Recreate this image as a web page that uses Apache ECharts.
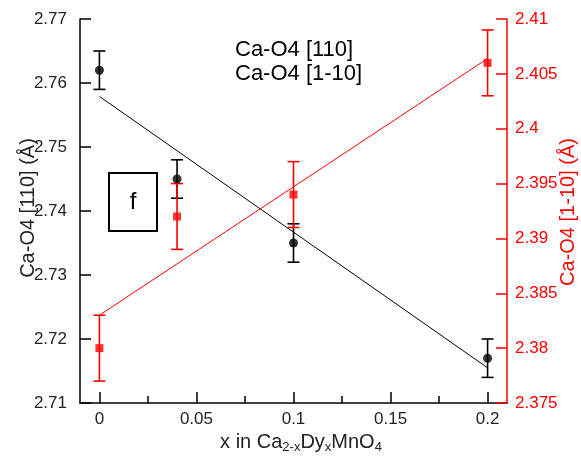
<!DOCTYPE html>
<html>
<head>
<meta charset="utf-8">
<script src="https://cdn.jsdelivr.net/npm/echarts@6/dist/echarts.min.js"></script>
<style>
html,body{margin:0;padding:0;background:#fff;}
#chart{width:581px;height:460px;}
</style>
</head>
<body>
<div id="chart"></div>
<script>
// ---- data ----
const xValues = [0, 0.04, 0.1, 0.2];
const ca110 = [2.762, 2.745, 2.735, 2.717];
const ca110Err = [0.003, 0.003, 0.003, 0.003];
const ca1m10 = [2.380, 2.392, 2.394, 2.406];
const ca1m10Err = [0.003, 0.003, 0.003, 0.003];
const fitX = [0, 0.2];
const fit110Y = [2.7579, 2.7155];
const fit1m10Y = [2.383, 2.4064];
const xMajorTicks = [0, 0.05, 0.1, 0.15, 0.2];
const xMinorTicks = [0.025, 0.075, 0.125, 0.175];
const legendLabels = ['Ca-O4 [110]', 'Ca-O4 [1-10]'];
const leftTitle = 'Ca-O4 [110] (Å)';
const rightTitle = 'Ca-O4 [1-10] (Å)';
const panelLetter = 'f';

const FONT = 'Liberation Sans';
const RED = '#ff0000';

function zip(xs, ys, es) {
  return xs.map((x, i) => es ? [x, ys[i], es[i]] : [x, ys[i]]);
}

function errRenderer(color) {
  return function (params, api) {
    const x = api.value(0), y = api.value(1), e = api.value(2);
    const t = api.coord([x, y + e]);
    const b = api.coord([x, y - e]);
    const hw = 6;
    const st = { stroke: color, lineWidth: 1.6 };
    return {
      type: 'group',
      children: [
        { type: 'line', shape: { x1: t[0], y1: t[1], x2: b[0], y2: b[1] }, style: st },
        { type: 'line', shape: { x1: t[0] - hw, y1: t[1], x2: t[0] + hw, y2: t[1] }, style: st },
        { type: 'line', shape: { x1: b[0] - hw, y1: b[1], x2: b[0] + hw, y2: b[1] }, style: st }
      ]
    };
  };
}

const chart = echarts.init(document.getElementById('chart'), null, { renderer: 'canvas' });

const option = {
  backgroundColor: '#fff',
  animation: false,
  grid: { left: 80, right: 74, top: 19, bottom: 57 },
  xAxis: [
    {
      type: 'value', min: -0.01, max: 0.21, position: 'bottom',
      axisLine: { show: true, onZero: false, lineStyle: { color: '#000', width: 1.5 } },
      axisTick: { show: true, inside: true, length: 11, customValues: xMajorTicks, lineStyle: { color: '#000', width: 1.5 } },
      axisLabel: { show: true, customValues: xMajorTicks, color: '#222', fontFamily: FONT, fontSize: 17, margin: 8 },
      splitLine: { show: false }
    },
    {
      type: 'value', min: -0.01, max: 0.21, position: 'top', offset: -384,
      axisLine: { show: false, onZero: false },
      axisTick: { show: true, inside: false, length: 7, customValues: xMinorTicks, lineStyle: { color: '#000', width: 1.5 } },
      axisLabel: { show: false },
      splitLine: { show: false }
    }
  ],
  yAxis: [
    {
      type: 'value', min: 2.71, max: 2.77, interval: 0.01, position: 'left',
      axisLine: { show: true, onZero: false, lineStyle: { color: '#000', width: 1.5 } },
      axisTick: { show: true, inside: true, length: 11, lineStyle: { color: '#000', width: 1.5 } },
      axisLabel: { color: '#222', fontFamily: FONT, fontSize: 17, margin: 13 },
      splitLine: { show: false }
    },
    {
      type: 'value', min: 2.375, max: 2.41, interval: 0.005, position: 'right',
      axisLine: { show: true, onZero: false, lineStyle: { color: RED, width: 1.5 } },
      axisTick: { show: true, inside: true, length: 11, lineStyle: { color: RED, width: 1.5 } },
      axisLabel: { color: RED, fontFamily: FONT, fontSize: 17, margin: 8 },
      splitLine: { show: false }
    }
  ],
  series: [
    {
      type: 'line', data: zip(fitX, fit110Y), xAxisIndex: 0, yAxisIndex: 0,
      showSymbol: false, symbol: 'none', lineStyle: { color: '#000', width: 1 }, z: 2
    },
    {
      type: 'line', data: zip(fitX, fit1m10Y), xAxisIndex: 0, yAxisIndex: 1,
      showSymbol: false, symbol: 'none', lineStyle: { color: RED, width: 1 }, z: 2
    },
    {
      type: 'custom', data: zip(xValues, ca110, ca110Err), xAxisIndex: 0, yAxisIndex: 0,
      renderItem: errRenderer('#000'), z: 3
    },
    {
      type: 'custom', data: zip(xValues, ca1m10, ca1m10Err), xAxisIndex: 0, yAxisIndex: 1,
      renderItem: errRenderer(RED), z: 4
    },
    {
      type: 'scatter', data: zip(xValues, ca110), xAxisIndex: 0, yAxisIndex: 0,
      symbol: 'circle', symbolSize: 9, itemStyle: { color: '#000' }, z: 5
    },
    {
      type: 'scatter', data: zip(xValues, ca1m10), xAxisIndex: 0, yAxisIndex: 1,
      symbol: 'rect', symbolSize: 8, itemStyle: { color: RED }, z: 6
    }
  ],
  graphic: [
    { type: 'text', left: 235, top: 39, style: { text: legendLabels[0], fill: '#000', font: '22px "' + FONT + '"' } },
    { type: 'text', left: 235, top: 63, style: { text: legendLabels[1], fill: '#000', font: '22px "' + FONT + '"' } },
    { type: 'rect', shape: { x: 109, y: 173, width: 48, height: 58 }, style: { fill: 'none', stroke: '#000', lineWidth: 2 } },
    { type: 'text', x: 133, y: 202, style: { text: panelLetter, fill: '#000', font: '24px "' + FONT + '"', align: 'center', verticalAlign: 'middle' } },
    { type: 'text', x: 28, y: 208, rotation: Math.PI / 2, style: { text: leftTitle, fill: '#222', font: '20px "' + FONT + '"', align: 'center', verticalAlign: 'middle' } },
    { type: 'text', x: 568, y: 212, rotation: Math.PI / 2, style: { text: rightTitle, fill: RED, font: '20px "' + FONT + '"', align: 'center', verticalAlign: 'middle' } },
    {
      type: 'text', x: 301, y: 442,
      style: {
        text: '{n|x in Ca}{s|2-x}{n|Dy}{s|x}{n|MnO}{s|4}',
        align: 'center', verticalAlign: 'middle',
        rich: {
          n: { fontFamily: FONT, fontSize: 20, fill: '#222', verticalAlign: 'middle' },
          s: { fontFamily: FONT, fontSize: 13, fill: '#222', padding: [10, 0, 0, 0] }
        }
      }
    }
  ]
};

chart.setOption(option);
</script>
</body>
</html>
